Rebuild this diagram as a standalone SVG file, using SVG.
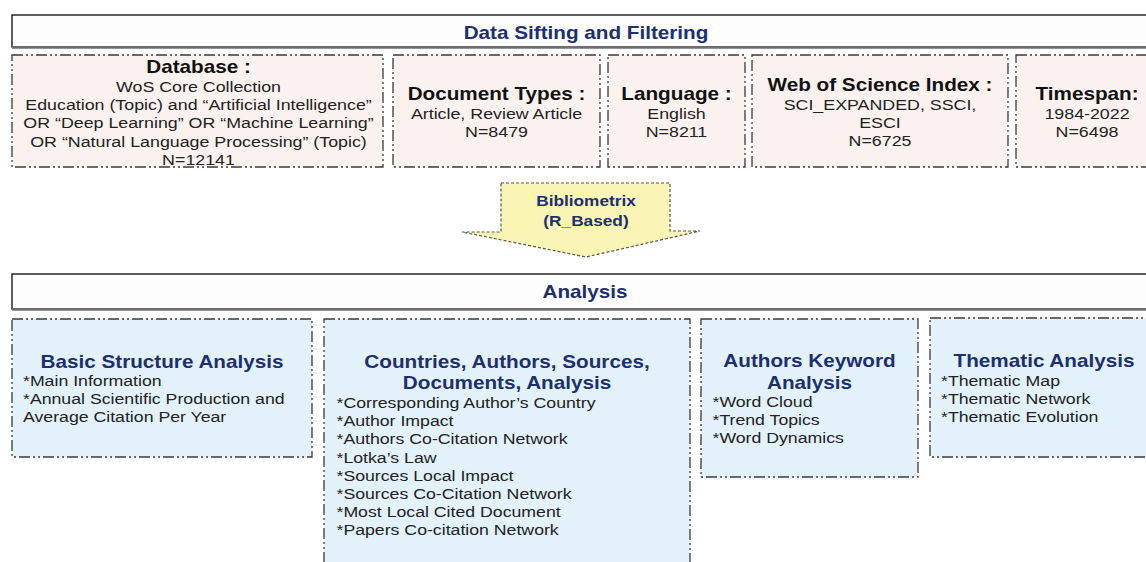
<svg xmlns="http://www.w3.org/2000/svg" width="1146" height="562" viewBox="0 0 1146 562">
  <style>
    text { font-family: "Liberation Sans", Arial, sans-serif; }
    .band { fill: #fdfdfd; stroke: #1a1a1a; stroke-width: 1.4; }
    .band-shade { stroke: #707070; stroke-width: 2.4; }
    .band-title { font-size: 18px; font-weight: bold; fill: #1c2f6e; text-anchor: middle; }
    .filter { fill: #fbf2ef; stroke: #3a3a3a; stroke-width: 1.3; stroke-dasharray: 11 3 2 3 2 3; }
    .topic { fill: #e3f2fa; stroke: #3a3a3a; stroke-width: 1.3; stroke-dasharray: 11 3 2 3 2 3; }
    .f-head { font-size: 18px; font-weight: bold; fill: #111; text-anchor: middle; }
    .f-body { font-size: 15.5px; fill: #222; text-anchor: middle; }
    .t-head { font-size: 18px; font-weight: bold; fill: #1c2f6e; text-anchor: middle; }
    .t-item { font-size: 15.4px; fill: #222; }
    .flow { fill: #faf5b5; stroke: #555; stroke-width: 1.2; stroke-dasharray: 3 2; }
    .flow-label { font-size: 15px; font-weight: bold; fill: #1c2f6e; text-anchor: middle; }
  </style>

  <rect width="1146" height="562" fill="#ffffff"/>

  <!-- header band: data sifting -->
  <g id="band-sifting">
    <rect class="band" x="12" y="15" width="1150" height="32"/>
    <line class="band-shade" x1="12" y1="47.5" x2="1146" y2="47.5"/>
    <g transform="translate(586 0) scale(1.15 1)">
      <text class="band-title" x="0" y="39">Data Sifting and Filtering</text>
    </g>
  </g>

  <!-- filter steps -->
  <g id="node-database">
    <rect class="filter" x="12" y="55" width="371" height="112"/>
    <g transform="translate(198.5 0) scale(1.15 1)">
      <text class="f-head" x="0" y="73">Database :</text>
      <text class="f-body" x="0" y="92">WoS Core Collection</text>
      <text class="f-body" x="0" y="110">Education (Topic) and “Artificial Intelligence”</text>
      <text class="f-body" x="0" y="128.5">OR “Deep Learning” OR “Machine Learning”</text>
      <text class="f-body" x="0" y="147">OR “Natural Language Processing” (Topic)</text>
      <text class="f-body" x="0" y="165">N=12141</text>
    </g>
  </g>

  <g id="node-document-types">
    <rect class="filter" x="393" y="55" width="207" height="112"/>
    <g transform="translate(496.5 0) scale(1.15 1)">
      <text class="f-head" x="0" y="100">Document Types :</text>
      <text class="f-body" x="0" y="119">Article, Review Article</text>
      <text class="f-body" x="0" y="137">N=8479</text>
    </g>
  </g>

  <g id="node-language">
    <rect class="filter" x="608" y="55" width="137" height="112"/>
    <g transform="translate(676.5 0) scale(1.15 1)">
      <text class="f-head" x="0" y="100">Language :</text>
      <text class="f-body" x="0" y="119">English</text>
      <text class="f-body" x="0" y="137">N=8211</text>
    </g>
  </g>

  <g id="node-wos-index">
    <rect class="filter" x="752" y="55" width="256" height="112"/>
    <g transform="translate(880 0) scale(1.15 1)">
      <text class="f-head" x="0" y="91.5">Web of Science Index :</text>
      <text class="f-body" x="0" y="110">SCI_EXPANDED, SSCI,</text>
      <text class="f-body" x="0" y="128">ESCI</text>
      <text class="f-body" x="0" y="146">N=6725</text>
    </g>
  </g>

  <g id="node-timespan">
    <rect class="filter" x="1016" y="55" width="144" height="112"/>
    <g transform="translate(1087 0) scale(1.15 1)">
      <text class="f-head" x="0" y="100">Timespan:</text>
      <text class="f-body" x="0" y="119">1984-2022</text>
      <text class="f-body" x="0" y="137">N=6498</text>
    </g>
  </g>

  <!-- connectors -->
  <g id="connectors">
    <path class="flow" d="M501,183 H670 V231 L700,231 L586,257 L462,232 L501,232 Z"/>
    <g transform="translate(586 0) scale(1.15 1)">
      <text class="flow-label" x="0" y="206">Bibliometrix</text>
      <text class="flow-label" x="0" y="226">(R_Based)</text>
    </g>
  </g>

  <!-- header band: analysis -->
  <g id="band-analysis">
    <rect class="band" x="12" y="274" width="1150" height="35"/>
    <line class="band-shade" x1="12" y1="309.5" x2="1146" y2="309.5"/>
    <g transform="translate(585 0) scale(1.15 1)">
      <text class="band-title" x="0" y="298">Analysis</text>
    </g>
  </g>

  <!-- analysis topics -->
  <g id="node-basic-structure">
    <rect class="topic" x="12" y="319" width="300" height="138"/>
    <g transform="translate(162 0) scale(1.15 1)">
      <text class="t-head" x="0" y="368">Basic Structure Analysis</text>
    </g>
    <g transform="translate(23 0) scale(1.15 1)">
      <text class="t-item" x="0" y="386">*Main Information</text>
      <text class="t-item" x="0" y="404.5">*Annual Scientific Production and</text>
      <text class="t-item" x="0" y="422.5">Average Citation Per Year</text>
    </g>
  </g>

  <g id="node-countries-authors">
    <rect class="topic" x="324" y="319" width="366" height="260"/>
    <g transform="translate(507 0) scale(1.15 1)">
      <text class="t-head" x="0" y="368">Countries, Authors, Sources,</text>
      <text class="t-head" x="0" y="389">Documents, Analysis</text>
    </g>
    <g transform="translate(336.5 0) scale(1.15 1)">
      <text class="t-item" x="0" y="408">*Corresponding Author’s Country</text>
      <text class="t-item" x="0" y="426.2">*Author Impact</text>
      <text class="t-item" x="0" y="444.4">*Authors Co-Citation Network</text>
      <text class="t-item" x="0" y="462.6">*Lotka’s Law</text>
      <text class="t-item" x="0" y="480.8">*Sources Local Impact</text>
      <text class="t-item" x="0" y="499">*Sources Co-Citation Network</text>
      <text class="t-item" x="0" y="517.2">*Most Local Cited Document</text>
      <text class="t-item" x="0" y="535.4">*Papers Co-citation Network</text>
    </g>
  </g>

  <g id="node-authors-keyword">
    <rect class="topic" x="701" y="319" width="217" height="158"/>
    <g transform="translate(809.5 0) scale(1.15 1)">
      <text class="t-head" x="0" y="367">Authors Keyword</text>
      <text class="t-head" x="0" y="389">Analysis</text>
    </g>
    <g transform="translate(712.5 0) scale(1.15 1)">
      <text class="t-item" x="0" y="407">*Word Cloud</text>
      <text class="t-item" x="0" y="425">*Trend Topics</text>
      <text class="t-item" x="0" y="443">*Word Dynamics</text>
    </g>
  </g>

  <g id="node-thematic">
    <rect class="topic" x="930" y="318" width="230" height="139"/>
    <g transform="translate(1044 0) scale(1.15 1)">
      <text class="t-head" x="0" y="367">Thematic Analysis</text>
    </g>
    <g transform="translate(941 0) scale(1.15 1)">
      <text class="t-item" x="0" y="386">*Thematic Map</text>
      <text class="t-item" x="0" y="404">*Thematic Network</text>
      <text class="t-item" x="0" y="422">*Thematic Evolution</text>
    </g>
  </g>
</svg>
